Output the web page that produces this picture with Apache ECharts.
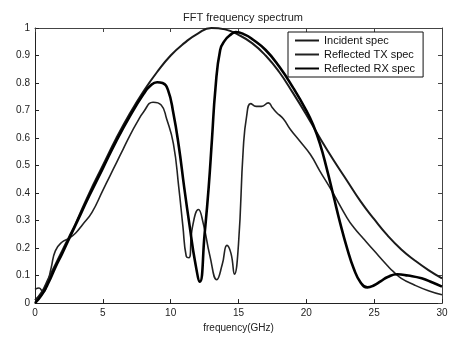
<!DOCTYPE html>
<html>
<head>
<meta charset="utf-8">
<script src="https://cdn.jsdelivr.net/npm/echarts@6/dist/echarts.min.js"></script>
<style>
  html, body { margin: 0; padding: 0; background: #fff; }
  #chart { width: 451px; height: 338px; }
</style>
</head>
<body>
<div id="chart"></div>
<script>
// frequency (GHz) and magnitude for each curve
const incidentFreq = [0, 0.5, 1, 1.5, 2, 2.5, 3, 4, 5, 6, 7, 8, 9, 10, 11, 12, 13, 14, 15, 16, 17, 18, 19, 20, 21, 22, 23, 24, 25, 26, 27, 28, 29, 30];
const incidentVals = [0.01, 0.04, 0.09, 0.14, 0.19, 0.24, 0.29, 0.4, 0.5, 0.6, 0.69, 0.77, 0.84, 0.9, 0.945, 0.98, 1.0, 0.995, 0.975, 0.945, 0.9, 0.84, 0.765, 0.685, 0.6, 0.52, 0.445, 0.37, 0.305, 0.245, 0.195, 0.155, 0.12, 0.09];

const txFreq = [0, 0.3, 0.6, 0.9, 1.2, 1.5, 2, 2.5, 3, 3.5, 4.2, 5, 5.5, 6, 6.5, 7, 7.5, 8, 8.7, 9.3, 9.7, 10.2, 10.6, 10.9, 11.15, 11.35, 11.6, 12.05, 12.4, 12.9, 13.4, 13.8, 14.15, 14.45, 14.7, 15.0, 15.35, 15.6, 15.9, 16.3, 16.7, 17.2, 17.5, 17.8, 18.3, 18.8, 19.5, 20.3, 21, 21.9, 23, 23.5, 24.2, 25, 26, 26.4, 27, 28, 29, 30];
const txVals = [0.05, 0.055, 0.04, 0.07, 0.13, 0.19, 0.222, 0.235, 0.255, 0.285, 0.33, 0.41, 0.46, 0.51, 0.56, 0.61, 0.655, 0.695, 0.73, 0.72, 0.67, 0.58, 0.42, 0.28, 0.17, 0.165, 0.275, 0.34, 0.29, 0.17, 0.085, 0.14, 0.21, 0.18, 0.105, 0.215, 0.56, 0.68, 0.725, 0.715, 0.715, 0.728, 0.71, 0.693, 0.67, 0.633, 0.59, 0.54, 0.48, 0.406, 0.31, 0.275, 0.235, 0.19, 0.135, 0.115, 0.09, 0.065, 0.045, 0.03];

const rxFreq = [0, 0.5, 1, 1.5, 2, 3, 4, 5, 6, 7, 8, 8.5, 9, 9.4, 9.8, 10.2, 10.6, 11, 11.4, 11.8, 12.15, 12.5, 12.8, 13.05, 13.3, 13.65, 14, 14.4, 14.8, 15.5, 16, 17, 18, 19, 20, 20.5, 21, 21.5, 22, 22.5, 23, 23.5, 24, 24.5, 25, 25.5, 26, 26.7, 27.5, 28.5, 29.3, 30];
const rxVals = [0, 0.03, 0.075, 0.13, 0.18, 0.285, 0.39, 0.49, 0.59, 0.68, 0.76, 0.79, 0.803, 0.8, 0.775, 0.69, 0.57, 0.42, 0.28, 0.15, 0.078, 0.25, 0.42, 0.6, 0.78, 0.92, 0.955, 0.975, 0.985, 0.975, 0.96, 0.92, 0.86, 0.785, 0.7, 0.648, 0.58, 0.49, 0.39, 0.29, 0.2, 0.125, 0.075, 0.057, 0.065, 0.08, 0.095, 0.105, 0.1, 0.09, 0.075, 0.06];

const pairs = (xs, ys) => xs.map((x, i) => [x, ys[i]]);
const font = 'Liberation Sans, Arial, sans-serif';

const chart = echarts.init(document.getElementById('chart'), null, { renderer: 'canvas' });

const lineSeries = (name, xs, ys, width, color) => ({
    name: name,
    type: 'line',
    data: pairs(xs, ys),
    symbol: 'none',
    showSymbol: false,
    smooth: 0.5,
    lineStyle: { color: color, width: width },
    itemStyle: { color: color },
    z: 3
});

chart.setOption({
    animation: false,
    backgroundColor: '#fff',
    title: {
        text: 'FFT frequency spectrum',
        left: 238,
        textAlign: 'center',
        top: 7,
        textStyle: { fontFamily: font, fontSize: 11, fontWeight: 'normal', color: '#222' }
    },
    grid: { left: 35, right: 9, top: 28, bottom: 31, show: false },
    legend: {
        orient: 'vertical',
        left: 288,
        top: 32,
        itemWidth: 24,
        itemHeight: 10,
        itemGap: 3,
        padding: [3, 8, 3, 6],
        borderColor: '#111',
        borderWidth: 1,
        backgroundColor: '#fff',
        itemStyle: { color: 'transparent', borderColor: 'transparent', borderWidth: 0 },
        textStyle: { fontFamily: font, fontSize: 11, color: '#111' },
        data: ['Incident spec', 'Reflected TX spec', 'Reflected RX spec']
    },
    xAxis: [
        {
            type: 'value', min: 0, max: 30, interval: 5, position: 'bottom',
            name: 'frequency(GHz)', nameLocation: 'middle', nameGap: 18,
            nameTextStyle: { fontFamily: font, fontSize: 10, color: '#222' },
            axisLine: { show: true, onZero: false, lineStyle: { color: '#222', width: 1 } },
            axisTick: { show: true, inside: true, length: 4, lineStyle: { color: '#222' } },
            axisLabel: { fontFamily: font, fontSize: 10, color: '#222', margin: 5 },
            splitLine: { show: false }
        },
        {
            type: 'value', min: 0, max: 30, interval: 5, position: 'top',
            axisLine: { show: true, onZero: false, lineStyle: { color: '#444', width: 1 } },
            axisTick: { show: true, inside: true, length: 4, lineStyle: { color: '#444' } },
            axisLabel: { show: false },
            splitLine: { show: false }
        }
    ],
    yAxis: [
        {
            type: 'value', min: 0, max: 1, interval: 0.1, position: 'left',
            axisLine: { show: true, onZero: false, lineStyle: { color: '#222', width: 1 } },
            axisTick: { show: true, inside: true, length: 4, lineStyle: { color: '#222' } },
            axisLabel: {
                fontFamily: font, fontSize: 10, color: '#222', margin: 5,
                formatter: v => (v === 0 || v === 1) ? String(v) : v.toFixed(1)
            },
            splitLine: { show: false }
        },
        {
            type: 'value', min: 0, max: 1, interval: 0.1, position: 'right',
            axisLine: { show: true, onZero: false, lineStyle: { color: '#444', width: 1 } },
            axisTick: { show: true, inside: true, length: 4, lineStyle: { color: '#444' } },
            axisLabel: { show: false },
            splitLine: { show: false }
        }
    ],
    series: [
        lineSeries('Incident spec', incidentFreq, incidentVals, 2, '#1a1a1a'),
        lineSeries('Reflected TX spec', txFreq, txVals, 1.6, '#222'),
        lineSeries('Reflected RX spec', rxFreq, rxVals, 2.6, '#000')
    ]
});
</script>
</body>
</html>
